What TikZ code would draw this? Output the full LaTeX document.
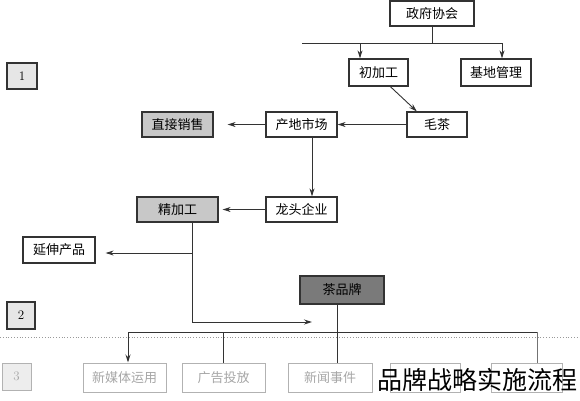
\documentclass[tikz,border=0pt]{standalone}
\usepackage{fontspec}
\newfontfamily\cjk{Noto Sans CJK SC}
\usetikzlibrary{arrows.meta}
\definecolor{lineclr}{HTML}{333333}
\definecolor{midgrey}{HTML}{C8C8C8}
\definecolor{darkgrey}{HTML}{7A7A7A}
\definecolor{palegrey}{HTML}{E6E6E6}
\begin{document}
\begin{tikzpicture}
  [x=1pt,y=-1pt,line width=0.9pt,draw=lineclr,
   box/.style={draw=lineclr,line width=1.2pt,inner sep=0pt,minimum height=25pt,
     font=\cjk\fontsize{13}{13}\selectfont},
   faint/.style={draw=black!30,line width=1pt,inner sep=0pt,minimum height=29pt,
     text=black!35,font=\cjk\fontsize{13}{13}\selectfont},
   tip/.style={-{Stealth[length=8pt,width=5pt]}}]
  \useasboundingbox (0,0) rectangle (580,400);

  % first section
  \node[box] (gov) at (432,13.5) [minimum width=84pt] {政府协会};
  \node[box] (chu) at (378.5,72.5) [minimum width=59pt,minimum height=27pt] {初加工};
  \node[box] (jidi) at (496,72.5) [minimum width=70pt,minimum height=27pt] {基地管理};
  \node[box] (mao) at (437,124.5) [minimum width=60pt] {毛茶};
  \node[box] (chandi) at (301.5,124.5) [minimum width=71pt] {产地市场};
  \node[box,fill=midgrey] (zhijie) at (177.5,124.5) [minimum width=71pt] {直接销售};
  \node[box] (longtou) at (301.5,209.5) [minimum width=71pt] {龙头企业};
  \node[box,fill=midgrey] (jing) at (177.5,209.5) [minimum width=81pt] {精加工};
  \node[box] (yanshen) at (59,250) [minimum width=72pt,minimum height=26pt] {延伸产品};
  \node[box,fill=darkgrey] (brand) at (342,290) [minimum width=84pt,minimum height=28pt] {茶品牌};

  % section marks
  \node[box,fill=palegrey,font=\fontsize{13}{13}\selectfont] (sec1) at (22,76) [minimum width=30pt,minimum height=26pt] {1};
  \node[box,fill=palegrey,font=\fontsize{13}{13}\selectfont] (sec2) at (21,315.5) [minimum width=28pt,minimum height=27pt] {2};
  \node[faint,fill=black!7,font=\fontsize{13}{13}\selectfont] (sec3) at (16.5,376.5) [minimum width=29pt,minimum height=27pt] {3};

  % third section
  \node[faint] (media) at (124.5,377.5) [minimum width=83pt] {新媒体运用};
  \node[faint] (ad) at (223.5,377.5) [minimum width=83pt] {广告投放};
  \node[faint] (news) at (330,377.5) [minimum width=84pt] {新闻事件};
  \node[faint] (box4) at (425,377.5) [minimum width=70pt] {};
  \node[faint] (box5) at (526.5,377.5) [minimum width=71pt] {};

  \coordinate (t0) at (302,43);
  \coordinate (t1) at (360,43);
  \coordinate (t2) at (432,43);
  \coordinate (t3) at (502,43);
  \coordinate (j1) at (192,253);
  \coordinate (j2) at (192,322);
  \coordinate (b1) at (312,322);
  \coordinate (d0) at (128,332);
  \coordinate (d1) at (223,332);
  \coordinate (d2) at (337,332);
  \coordinate (d3) at (537,332);

  \draw (gov.south) -- (t2);
  \draw (t0) -- (t3);
  \draw[tip] (t1) -- (chu.north -| t1);
  \draw[tip] (t3) -- (jidi.north -| t3);
  \draw[tip] (chu.-50) -- (mao.147);
  \draw[tip] (mao.west) -- (chandi.east);
  \draw[tip,shorten >=14pt] (chandi.west) -- (zhijie.east);
  \draw[tip] ([xshift=10.5pt]chandi.south) -- ([xshift=10.5pt]longtou.north);
  \draw[tip,shorten >=4pt] (longtou.west) -- (jing.east);
  \draw[tip] (jing.south -| j1) -- (j2) -- (b1);
  \draw[tip,shorten >=10pt] (j1) -- (yanshen.east |- j1);

  \draw (brand.south -| d2) -- (news.north -| d2);
  \draw (d0) -- (d3);
  \draw[tip] (d0) -- (media.north -| d0);
  \draw (d1) -- (ad.north -| d1);
  \draw[draw=black!55] (d3) -- (box5.north -| d3);

  \draw[black!40,dotted,line width=0.8pt] (0,337) -- (580,337);

  \node[inner sep=0pt,font=\cjk\fontsize{25}{25}\selectfont] (caption) at (477,380) {品牌战略实施流程};
\end{tikzpicture}
\end{document}
